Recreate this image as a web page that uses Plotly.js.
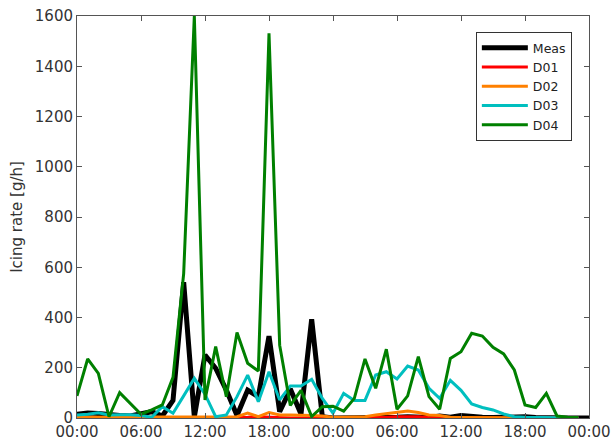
<!DOCTYPE html>
<html>
<head>
<meta charset="utf-8">
<script src="https://cdn.plot.ly/plotly-3.0.1.min.js"></script>
<style>html,body{margin:0;padding:0;background:#fff;}#chart{width:612px;height:443px;}</style>
</head>
<body>
<div id="chart"></div>
<script>
// hours since start (two days)
const hoursMeas = [0,1,2,3,4,5,6,7,8,9,10,11,12,13,14,15,16,17,18,19,20,21,22,23,24,25,26,27,28,29,30,31,32,33,34,35,36,37,38,39,40,41,42,43,44,45,46,47,48];
const hoursModel = [0,1,2,3,4,5,6,7,8,9,10,11,12,13,14,15,16,17,18,19,20,21,22,23,24,25,26,27,28,29,30,31,32,33,34,35,36,37,38,39,40,41,42,43,44,45,46,47];

const meas = [15,20,18,12,10,8,15,25,8,70,540,5,251,198,111,10,111,85,326,25,115,16,393,5,0,0,0,0,0,2,3,5,3,2,8,3,10,5,3,2,3,8,5,2,0,0,0,0,0];
const d01 = [0,0,0,0,0,0,0,0,0,0,0,3,3,0,0,0,3,5,3,0,0,0,0,0,0,0,0,0,0,3,5,5,5,2,0,0,0,0,0,0,0,0,0,0,0,0,0,0];
const d02 = [3,3,3,3,3,3,3,3,3,3,3,5,5,5,3,5,20,5,22,12,12,12,10,8,3,3,3,5,12,18,25,28,22,12,10,3,2,2,2,2,2,2,2,2,2,1,1,0];
const d03 = [12,15,21,12,13,13,10,3,45,19,88,158,95,5,12,85,171,65,184,72,127,127,154,78,19,98,70,70,171,184,155,207,191,118,78,150,110,56,42,32,16,5,3,2,2,1,0,0];
const d04 = [88,235,178,5,101,58,15,32,52,162,575,1600,72,284,85,340,218,187,1531,290,50,110,6,45,47,27,78,235,118,274,35,88,244,85,35,237,264,337,326,281,255,191,52,42,98,8,3,2];

const tickVals = [0,6,12,18,24,30,36,42,48];
const tickText = ['00:00','06:00','12:00','18:00','00:00','06:00','12:00','18:00','00:00'];
const yTicks = [0,200,400,600,800,1000,1200,1400,1600];

const font = 'DejaVu Sans, sans-serif';
const traces = [
  {x: hoursMeas, y: meas, name: 'Meas', mode: 'lines', line: {color: '#000000', width: 5}},
  {x: hoursModel, y: d01, name: 'D01', mode: 'lines', line: {color: '#ff0000', width: 3}},
  {x: hoursModel, y: d02, name: 'D02', mode: 'lines', line: {color: '#ff8000', width: 3}},
  {x: hoursModel, y: d03, name: 'D03', mode: 'lines', line: {color: '#00bfbf', width: 3}},
  {x: hoursModel, y: d04, name: 'D04', mode: 'lines', line: {color: '#008000', width: 3}}
];

const axisCommon = {
  showline: true, linecolor: '#555', linewidth: 1, mirror: 'ticks',
  ticks: 'inside', ticklen: 5, tickcolor: '#555', tickwidth: 1,
  showgrid: false, zeroline: false,
  tickfont: {family: font, size: 15, color: '#333'}
};

const layout = {
  width: 612, height: 443,
  margin: {l: 77, r: 23, t: 16, b: 25},
  paper_bgcolor: '#fff', plot_bgcolor: '#fff',
  font: {family: font, color: '#333'},
  showlegend: true,
  legend: {
    x: 0.779, y: 0.96, xanchor: 'left', yanchor: 'top',
    bgcolor: '#fff', bordercolor: '#333', borderwidth: 1,
    font: {family: font, size: 12.5, color: '#222'},
    itemwidth: 46, tracegroupgap: 0
  },
  xaxis: Object.assign({}, axisCommon, {
    range: [0, 48], tickmode: 'array', tickvals: tickVals, ticktext: tickText
  }),
  yaxis: Object.assign({}, axisCommon, {
    range: [0, 1600], tickmode: 'array', tickvals: yTicks,
    title: {text: 'Icing rate [g/h]', font: {family: font, size: 15, color: '#333'}, standoff: 8}
  })
};

Plotly.newPlot('chart', traces, layout, {staticPlot: true, displayModeBar: false});
</script>
</body>
</html>
